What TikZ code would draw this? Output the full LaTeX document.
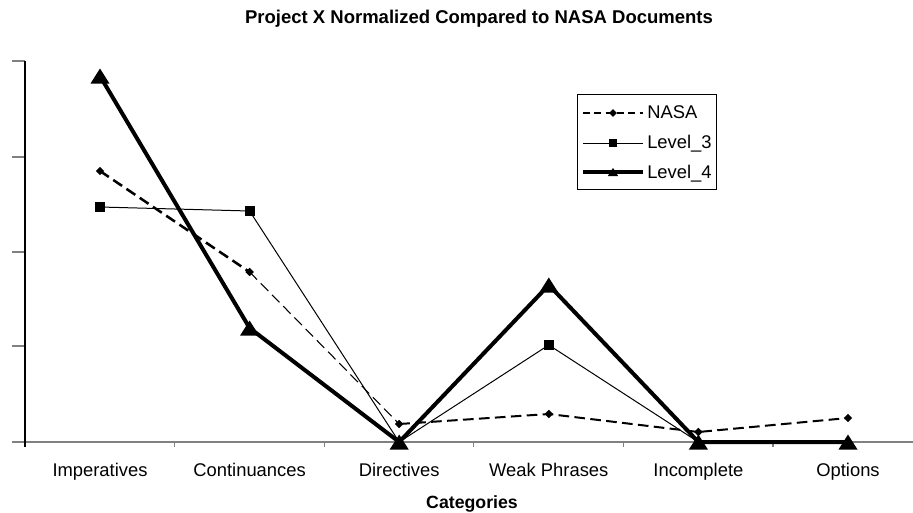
\documentclass[tikz,border=0pt]{standalone}
\usepackage{fontspec}
\setmainfont{Liberation Sans}
\usetikzlibrary{shapes.geometric}

\tikzset{
    sqmark/.style={fill, inner sep=0pt, minimum size=7.5pt},
    dmmark/.style={diamond, fill, inner sep=0pt, minimum size=6.5pt},
    trimark/.pic={\fill (-9.5,7.5) -- (9.5,7.5) -- (0,-7.5) -- cycle;},
    nasaline/.style={dash pattern=on 8pt off 4pt},
}

\begin{document}
\begin{tikzpicture}[x=0.0264cm, y=-0.0264cm, font=\fontsize{13.8}{16}\selectfont]
    \useasboundingbox (0,0) rectangle (913,512);
    % axes
    \draw[gray, line width=1.2pt] (12,442) -- (913,442);
    \foreach \y in {61,157,252,346} {
        \draw[gray, line width=0.9pt] (12,\y) -- (25,\y);
    }
    \foreach \i in {1,...,5} {
        \draw[gray, line width=0.9pt] ({25+149.6*\i},442) -- ({25+149.6*\i},447);
    }
    \draw[line width=0.9pt] (25,61) -- (25,447);
    \node[anchor=base, inner sep=0pt, font=\fontsize{13.9}{16}\selectfont\bfseries] (title) at (479,23.3) {Project X Normalized Compared to NASA Documents};
    \node[anchor=base, inner sep=0pt, font=\fontsize{13.3}{16}\selectfont\bfseries] (xlabel) at (472,508) {Categories};
    \foreach \c [count=\i] in {Imperatives,Continuances,Directives,Weak Phrases,Incomplete,Options} {
        \node[anchor=base, inner sep=0pt] (cat\i) at ({100+149.6*(\i-1)},476) {\c};
    }
    % data points
    \foreach \a/\b/\c [count=\i] in {171/207/76, 272/211/328, 424/442/442, 414/345/285, 432/442/442, 418/442/442} {
        \coordinate (nasa\i) at ({100+149.6*(\i-1)},\a);
        \coordinate (lvthree\i) at ({100+149.6*(\i-1)},\b);
        \coordinate (lvfour\i) at ({100+149.6*(\i-1)},\c);
    }
    \draw[nasaline, line width=1.9pt] (nasa1) -- (nasa2);
    \draw[nasaline, line width=0.8pt] (nasa2) -- (nasa3);
    \draw[nasaline, line width=1.5pt] (nasa3) -- (nasa4) -- (nasa5) -- (nasa6);
    \foreach \i in {1,...,6} {
        \node[dmmark] (dm\i) at (nasa\i) {};
    }
    \draw[line width=0.75pt] (lvthree1) -- (lvthree2) -- (lvthree3) -- (lvthree4) -- (lvthree5) -- (lvthree6);
    \foreach \i in {1,2,4} {
        \node[sqmark] (sq\i) at (lvthree\i) {};
    }
    \draw[line width=3pt] (lvfour1) -- (lvfour2) -- (lvfour3) -- (lvfour4) -- (lvfour5) -- (lvfour6);
    \foreach \i in {1,...,6} {
        \pic at (lvfour\i) {trimark};
    }
    % legend
    \draw[line width=0.75pt] (577,94) rectangle (716,189);
    \coordinate (la1) at (583,113); \coordinate (lb1) at (643,113);
    \coordinate (la2) at (583,143); \coordinate (lb2) at (643,143);
    \coordinate (la3) at (583,172); \coordinate (lb3) at (643,172);
    \draw[dash pattern=on 5pt off 3.5pt, line width=1.5pt] (la1) -- (lb1);
    \node[dmmark, minimum size=6pt] (legdm) at (613,113) {};
    \draw[line width=0.75pt] (la2) -- (lb2);
    \node[sqmark, minimum size=5.5pt] (legsq) at (613,143) {};
    \draw[line width=3pt] (la3) -- (lb3);
    \pic[scale=0.55] at (613,172) {trimark};
    \node[anchor=base west, inner sep=0pt] (lnasa) at (647,118) {NASA};
    \node[anchor=base west, inner sep=0pt] (lthree) at (647,148) {Level\_3};
    \node[anchor=base west, inner sep=0pt] (lfour) at (647,178) {Level\_4};
\end{tikzpicture}
\end{document}
